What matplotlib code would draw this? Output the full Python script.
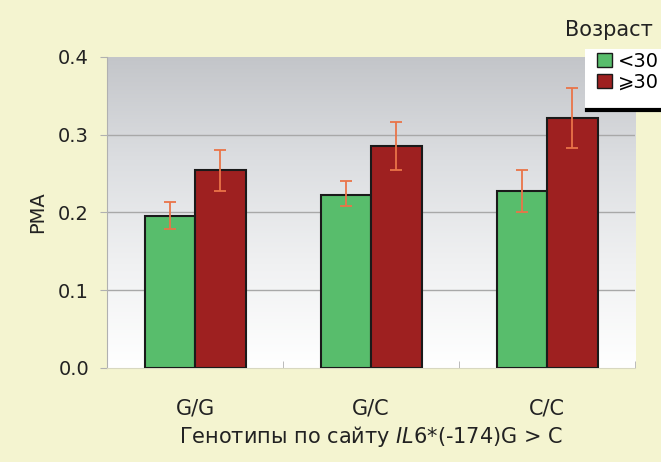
import numpy as np
import matplotlib
matplotlib.use("Agg")
import matplotlib.pyplot as plt
from matplotlib.lines import Line2D
from matplotlib.patches import Patch, Rectangle

genotypes = ["G/G", "G/C", "C/C"]
young = [0.195, 0.223, 0.227]
young_lo = [0.179, 0.208, 0.201]
young_hi = [0.214, 0.240, 0.254]
old = [0.254, 0.286, 0.321]
old_lo = [0.227, 0.255, 0.283]
old_hi = [0.280, 0.316, 0.360]
yticks = [0.0, 0.1, 0.2, 0.3, 0.4]

plt.rcParams['font.family'] = ['DejaVu Sans', 'Noto Sans']

bg = '#f4f4d0'
green = '#58bd6c'
red = '#9e2020'
errc = '#ea7448'
txt = '#222222'

fig = plt.figure(figsize=(6.61, 4.62), dpi=100, facecolor=bg)
ax = fig.add_axes([0.162, 0.2035, 0.799, 0.6735])
ax.set_facecolor('white')

# gradient background
grad = np.linspace(0, 1, 256).reshape(-1, 1)
cmap = matplotlib.colors.LinearSegmentedColormap.from_list(
    'g', ['#ffffff', '#f0f1f2', '#dcdee1', '#c3c5c9'])
ax.imshow(grad, extent=[-0.5, 2.5, 0, 0.4], origin='lower', aspect='auto',
          cmap=cmap, zorder=0)

x = np.arange(len(genotypes))
w = 0.287
yerr_y = [np.array(young) - np.array(young_lo), np.array(young_hi) - np.array(young)]
yerr_o = [np.array(old) - np.array(old_lo), np.array(old_hi) - np.array(old)]

ax.bar(x - w / 2, young, w, color=green, edgecolor='#1a1a1a', linewidth=1.5, zorder=3)
ax.bar(x + w / 2, old, w, color=red, edgecolor='#1a1a1a', linewidth=1.5, zorder=3)
ax.errorbar(x - w / 2, young, yerr=yerr_y, fmt='none', ecolor=errc, elinewidth=1.3,
            capsize=4.5, capthick=1.3, zorder=4)
ax.errorbar(x + w / 2, old, yerr=yerr_o, fmt='none', ecolor=errc, elinewidth=1.3,
            capsize=4.5, capthick=1.3, zorder=4)

for yv in yticks[1:4]:
    ax.axhline(yv, color='#a8a8a8', linewidth=1, zorder=1)

ax.set_xlim(-0.5, 2.5)
ax.set_ylim(0, 0.4)
ax.set_yticks(yticks)
ax.set_yticklabels([f"{v:.1f}" for v in yticks], fontsize=14, color=txt)
ax.set_xticks(x)
ax.set_xticklabels(genotypes, fontsize=15, color=txt)
ax.tick_params(axis='x', length=0, pad=22)
ax.set_xticks([-0.5, 0.5, 1.5, 2.5], minor=True)
ax.tick_params(axis='x', which='minor', length=5, color='#b0b0b0', direction='in')
ax.tick_params(axis='y', length=5, color='#b0b0b0', pad=8)

for s in ['top', 'right']:
    ax.spines[s].set_visible(False)
ax.spines['left'].set_color('#b0b0b0')
ax.spines['bottom'].set_color('#d8d8c0')

ax.set_ylabel("PMA", fontsize=14, color=txt, labelpad=8)
ax.set_xlabel("Генотипы по сайту $\\mathit{IL6}$*(-174)G > C", fontsize=15,
              color=txt, labelpad=4)

# legend: white box running off the right edge, black bar underneath
fig.add_artist(Rectangle((0.885, 0.762), 0.2, 0.132, transform=fig.transFigure,
                         facecolor='white', edgecolor='none', zorder=5))
fig.add_artist(Line2D([0.888, 1.0], [0.762, 0.762], color='black', linewidth=3,
                      transform=fig.transFigure, zorder=6))
handles = [Patch(facecolor=green, edgecolor='#1a1a1a', linewidth=1),
           Patch(facecolor=red, edgecolor='#1a1a1a', linewidth=1)]
leg = fig.legend(handles, ["<30", "⩾30"], loc='upper left',
                 bbox_to_anchor=(0.898, 0.896), fontsize=14, frameon=False,
                 handlelength=0.75, handleheight=0.75,
                 handletextpad=0.3, labelspacing=0.1, borderpad=0.2,
                 borderaxespad=0)
leg.set_zorder(7)
fig.text(0.855, 0.935, "Возраст", fontsize=15, color=txt, va='center')

fig.savefig("out.png", dpi=100, facecolor=bg)
